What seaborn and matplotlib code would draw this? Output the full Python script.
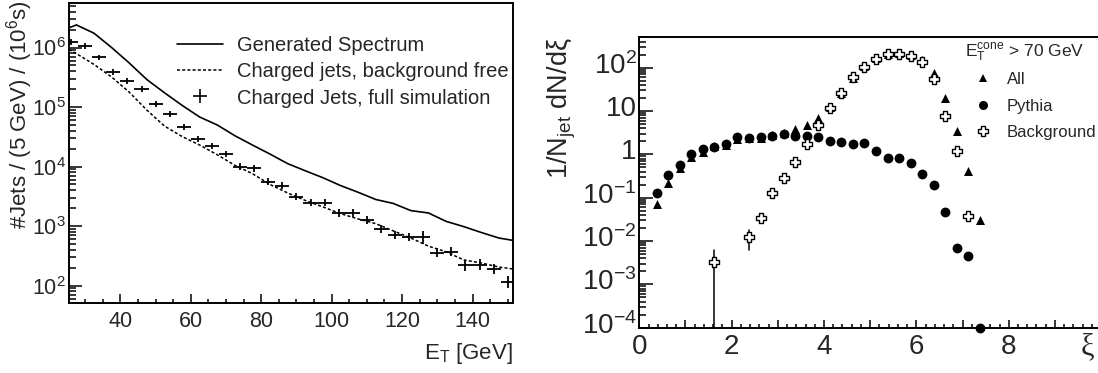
import numpy as np
import pandas as pd
import matplotlib
matplotlib.use("Agg")
import matplotlib.pyplot as plt
import matplotlib.transforms as mtransforms
import seaborn as sns
from matplotlib.lines import Line2D
from matplotlib.ticker import MultipleLocator, LogLocator, NullFormatter, FuncFormatter

# ---------------- Left panel data ----------------
et_line = [25.4, 27.5, 32.5, 37.5, 42.5, 47.5, 52.5, 57.5, 62.5, 67.5, 72.5, 77.5, 82.5,
           87.5, 92.5, 97.5, 102.5, 107.5, 112.5, 117.5, 122.5, 127.5, 132.5, 137.5,
           142.5, 147.5, 151.5]
generated = [2.14e6, 2.4e6, 1.74e6, 1.0e6, 5.5e5, 2.9e5, 1.74e5, 1.07e5, 6.8e4, 5.0e4,
             3.3e4, 2.3e4, 1.62e4, 1.12e4, 8.5e3, 6.5e3, 4.8e3, 3.7e3, 2.8e3, 2.4e3,
             1.82e3, 1.66e3, 1.2e3, 980, 780, 630, 575]
charged_free = [9.3e5, 7.9e5, 5.2e5, 3.2e5, 1.78e5, 8.9e4, 4.8e4, 3.2e4, 2.3e4, 1.58e4,
                1.05e4, 7.6e3, 5.0e3, 3.6e3, 2.7e3, 2.1e3, 1.62e3, 1.32e3, 1.1e3, 830,
                630, 460, 370, 270, 240, 205, 190]
et_full = [26, 30, 34, 38, 42, 46, 50, 54, 58, 62, 66, 70, 74, 78, 82, 86, 90, 94, 98,
           102, 106, 110, 114, 118, 122, 126, 130, 134, 138, 142, 146, 150]
charged_full = [1.26e6, 1.05e6, 6.8e5, 3.9e5, 2.7e5, 2.0e5, 1.12e5, 7.6e4, 4.6e4, 2.9e4,
                2.25e4, 1.6e4, 1.0e4, 9.3e3, 5.6e3, 4.8e3, 3.1e3, 2.45e3, 2.45e3, 1.66e3,
                1.66e3, 1.26e3, 890, 710, 660, 645, 355, 370, 220, 225, 190, 115]
full_err_dex = [0.05, 0.05, 0.05, 0.05, 0.05, 0.05, 0.05, 0.05, 0.05, 0.05, 0.05, 0.05,
                0.06, 0.06, 0.06, 0.06, 0.06, 0.06, 0.06, 0.065, 0.065, 0.065, 0.065,
                0.065, 0.065, 0.11, 0.075, 0.075, 0.09, 0.09, 0.09, 0.095]
et_halfbin = 2.0

# ---------------- Right panel data ----------------
xi = [0.375, 0.625, 0.875, 1.125, 1.375, 1.625, 1.875, 2.125, 2.375, 2.625, 2.875,
      3.125, 3.375, 3.625, 3.875, 4.125, 4.375, 4.625, 4.875, 5.125, 5.375, 5.625,
      5.875, 6.125, 6.375, 6.625, 6.875, 7.125, 7.375]
all_vals = [0.071, 0.222, 0.49, 0.853, 1.15, 1.58, 1.64, 2.22, 2.34, 2.43, 2.79, 3.16,
            3.78, 4.75, 7.1, 12.2, 26.5, 58.7, 109, 170, 207, 222, 196, 150, 76.7, 19.6,
            3.5, 0.41, 0.0305]
pythia_vals = [0.13, 0.333, 0.568, 1.02, 1.33, 1.50, 1.73, 2.47, 2.43, 2.47, 2.65, 2.90,
               2.70, 2.70, 2.47, 2.07, 1.89, 1.70, 1.79, 1.19, 0.81, 0.81, 0.62, 0.352,
               0.196, 0.046, 0.0068, 0.0046, 1.0e-4]
xi_bg = [1.625, 2.375, 2.625, 2.875, 3.125, 3.375, 3.625, 3.875, 4.125, 4.375, 4.625,
         4.875, 5.125, 5.375, 5.625, 5.875, 6.125, 6.375, 6.625, 6.875, 7.125]
bg_vals = [0.0032, 0.0126, 0.0347, 0.13, 0.279, 0.678, 1.73, 4.75, 11.5, 26.5, 59.8,
           105, 158, 203, 207, 189, 137, 54.7, 7.8, 1.19, 0.0378]
bg_err_x = [1.625, 2.375]
bg_err_lo = [1e-5, 0.0062]
bg_err_hi = [0.0062, 0.018]

# ---------------- style ----------------
sns.set_style("ticks")
plt.rcParams["font.family"] = ["Liberation Sans", "DejaVu Sans"]
plt.rcParams["mathtext.fontset"] = "custom"
plt.rcParams["mathtext.rm"] = "Liberation Sans"
plt.rcParams["mathtext.it"] = "Liberation Sans:italic"
plt.rcParams["mathtext.bf"] = "Liberation Sans:bold"
plt.rcParams["mathtext.sf"] = "Liberation Sans"
plt.rcParams["axes.linewidth"] = 1.4
plt.rcParams["axes.edgecolor"] = "black"

W, H = 1098, 373
fig = plt.figure(figsize=(W / 100, H / 100), dpi=100)
fig.patch.set_facecolor("white")

ax1 = fig.add_axes([69 / W, 1 - 303 / H, 444 / W, 300 / H])
ax2 = fig.add_axes([639.3 / W, 1 - 327.7 / H, 461.8 / W, 290.7 / H])

# ---------------- Left panel ----------------
ax1.set_yscale("log")
df_line = pd.DataFrame({"et": et_line, "gen": generated, "free": charged_free})
sns.lineplot(data=df_line, x="et", y="gen", ax=ax1, color="black", lw=1.2,
             estimator=None, sort=False)
sns.lineplot(data=df_line, x="et", y="free", ax=ax1, color="black", lw=1.1,
             linestyle=(0, (2, 1.4)), estimator=None, sort=False)
yf = np.array(charged_full)
ed = np.array(full_err_dex)
ax1.errorbar(et_full, yf, xerr=et_halfbin,
             yerr=[yf - yf * 10 ** (-ed), yf * 10 ** ed - yf],
             fmt="none", ecolor="black", elinewidth=1.3, capsize=0)

ax1.set_xlim(25.4, 151.5)
ax1.set_ylim(51, 5.6e6)
ax1.xaxis.set_major_locator(MultipleLocator(20))
ax1.xaxis.set_minor_locator(MultipleLocator(5))
ax1.yaxis.set_major_locator(LogLocator(base=10, numticks=20))
ax1.yaxis.set_minor_locator(LogLocator(base=10, subs=np.arange(2, 10), numticks=100))
ax1.yaxis.set_minor_formatter(NullFormatter())
ax1.tick_params(axis="both", which="both", direction="in", top=False, right=False,
                labelsize=15.5, color="black", width=1.1)
ax1.tick_params(axis="y", which="major", length=9.5, pad=2)
ax1.tick_params(axis="y", which="minor", length=4.7)
ax1.tick_params(axis="x", which="major", length=6.5, pad=6)
ax1.tick_params(axis="x", which="minor", length=3.2)

ax1.set_xlabel(r"E$_\mathregular{T}$ [GeV]", fontsize=16, loc="right")
ax1.xaxis.set_label_coords(1.0, -0.125)
ax1.set_ylabel(r"#Jets / (5 GeV) / (10$^{6}$s)", fontsize=16, loc="top")
ax1.yaxis.set_label_coords(-0.077, 1.01)

h_gen = Line2D([], [], color="black", lw=1.2)
h_free = Line2D([], [], color="black", lw=1.1, linestyle=(0, (2, 1.4)))
h_full = Line2D([], [], color="black", marker="+", markersize=10, mew=1.2, linestyle="none")
ax1.legend([h_gen, h_free, h_full],
           ["Generated Spectrum", "Charged jets, background free",
            "Charged Jets, full simulation"],
           loc="upper left", bbox_to_anchor=(177 / W, 1 - 36 / H),
           bbox_transform=fig.transFigure, frameon=False, fontsize=14.5,
           handlelength=2.3, handletextpad=0.7, labelspacing=0.36,
           borderpad=0, borderaxespad=0)

# ---------------- Right panel ----------------
ax2.set_yscale("log")
df_all = pd.DataFrame({"xi": xi, "all": all_vals, "pythia": pythia_vals})
df_bg = pd.DataFrame({"xi": xi_bg, "bg": bg_vals})

for x0, lo, hi in zip(bg_err_x, bg_err_lo, bg_err_hi):
    ax2.plot([x0, x0], [lo, hi], color="black", lw=1.1, zorder=2)

sns.scatterplot(data=df_all, x="xi", y="all", ax=ax2, marker="^", color="black",
                s=42, linewidth=0, zorder=3, clip_on=False)
sns.scatterplot(data=df_all, x="xi", y="pythia", ax=ax2, marker="o", color="black",
                s=50, linewidth=0, zorder=4, clip_on=False)
sns.scatterplot(data=df_bg, x="xi", y="bg", ax=ax2, marker="P", color="white",
                s=58, linewidth=1.0, zorder=5, clip_on=False)
coll = ax2.collections[-1]
coll.set_facecolor("white")
coll.set_edgecolor("black")

ax2.set_xlim(0, 10)
ax2.set_ylim(1e-4, 513)
ax2.xaxis.set_major_locator(MultipleLocator(1))
ax2.xaxis.set_minor_locator(MultipleLocator(0.2))


def fmt_xi(v, pos):
    n = int(round(v))
    if n % 2 == 0 and n <= 8:
        return f"{n}"
    return ""


ax2.xaxis.set_major_formatter(FuncFormatter(fmt_xi))


def fmt_right(v, pos):
    e = int(round(np.log10(v)))
    if e == 0:
        return "1"
    if e == 1:
        return "10"
    return r"$10^{%d}$" % e


ax2.yaxis.set_major_locator(LogLocator(base=10, numticks=20))
ax2.yaxis.set_major_formatter(FuncFormatter(fmt_right))
ax2.yaxis.set_minor_locator(LogLocator(base=10, subs=np.arange(2, 10), numticks=100))
ax2.yaxis.set_minor_formatter(NullFormatter())
ax2.tick_params(axis="both", which="both", direction="in", top=False, right=False,
                labelsize=20, color="black", width=1.1)
ax2.tick_params(axis="y", which="major", length=10, pad=2)
ax2.tick_params(axis="y", which="minor", length=5)
ax2.tick_params(axis="x", which="major", length=6, pad=4.5)
ax2.tick_params(axis="x", which="minor", length=3)

ax2.set_xlabel("ξ", fontsize=22, loc="right", family=["Liberation Serif", "DejaVu Serif"])
ax2.xaxis.set_label_coords(0.985, -0.015)
ax2.set_ylabel(r"1/N$_\mathregular{jet}$ dN/dξ", fontsize=19.5, loc="top")
ax2.yaxis.set_label_coords(-0.133, 1.0)

fig.text(965 / W, 1 - 57 / H, r"$\mathregular{E_T^{cone}}$ > 70 GeV", fontsize=12.5,
         ha="left", va="baseline")
h_all = Line2D([], [], color="black", marker="^", markersize=6, linestyle="none", mew=0)
h_py = Line2D([], [], color="black", marker="o", markersize=6.5, linestyle="none", mew=0)
h_bg = Line2D([], [], color="black", marker="P", markersize=7, markerfacecolor="white",
              markeredgecolor="black", mew=1.0, linestyle="none")
ax2.legend([h_all, h_py, h_bg], ["All", "Pythia", "Background"],
           loc="upper left", bbox_to_anchor=(974.7 / W, 1 - 72 / H),
           bbox_transform=fig.transFigure, frameon=False, fontsize=12,
           handlelength=1.0, handletextpad=0.94, labelspacing=0.7,
           borderpad=0, borderaxespad=0)

# ROOT-style: y tick labels of the right panel sit slightly above their ticks
fig.canvas.draw()
lift = mtransforms.ScaledTranslation(0, 5 / 100, fig.dpi_scale_trans)
for lab in ax2.yaxis.get_ticklabels():
    lab.set_transform(lab.get_transform() + lift)

fig.savefig("out.png", dpi=100, facecolor="white")
